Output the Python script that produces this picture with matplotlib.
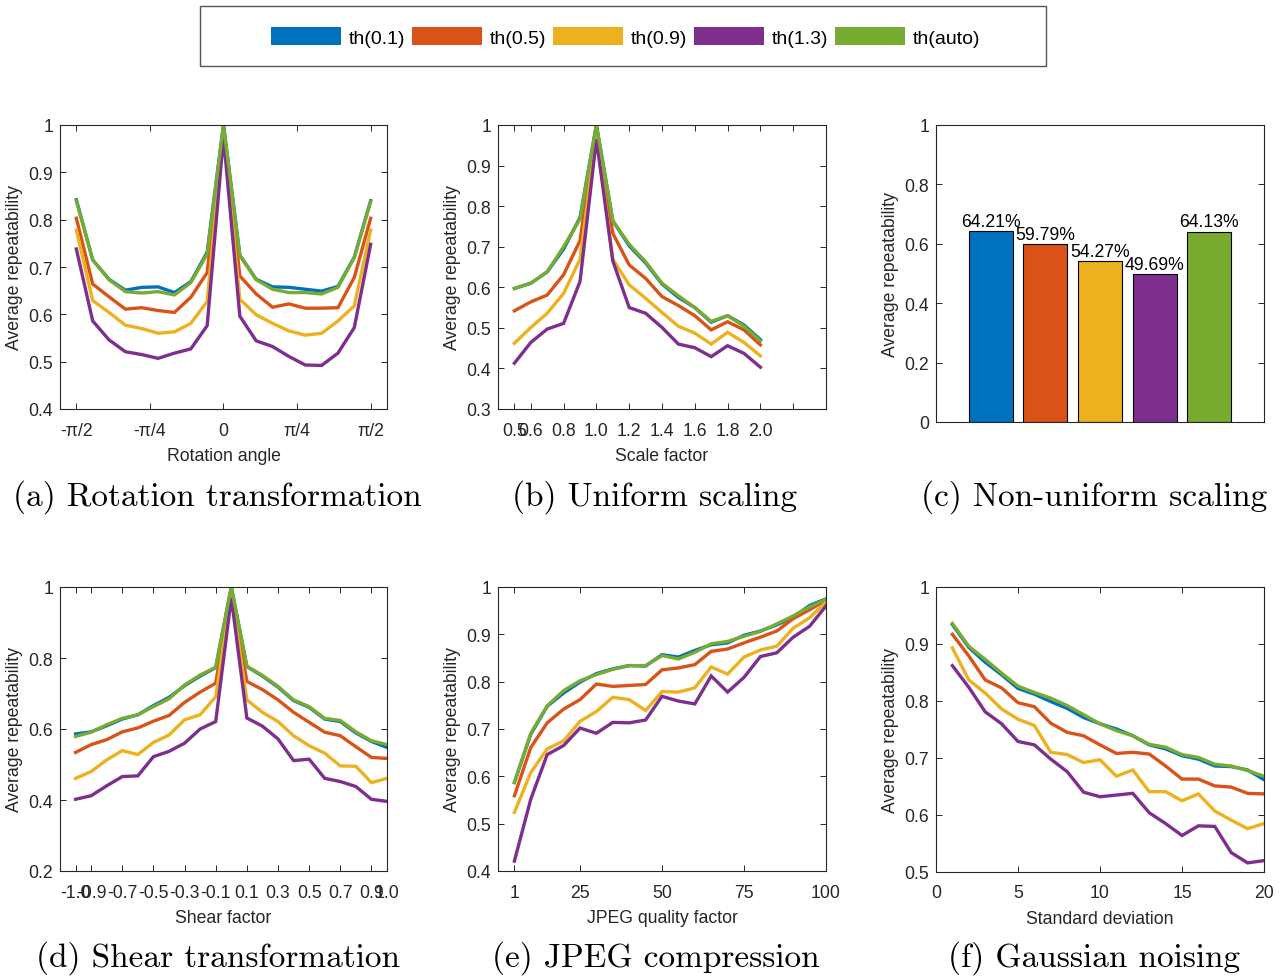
import matplotlib
matplotlib.use('Agg')
import matplotlib.pyplot as plt
from matplotlib.patches import Patch, Rectangle

plt.rcParams['font.family'] = ['Liberation Sans', 'DejaVu Sans']

W, H = 1279, 979
colors = ['#0072BD', '#D95319', '#EDB120', '#7E2F8E', '#77AC30']
series_names = ['th(0.1)', 'th(0.5)', 'th(0.9)', 'th(1.3)', 'th(auto)']

# ---------------- (a) Rotation transformation ----------------
rot_angle = [-90, -80, -70, -60, -50, -40, -30, -20, -10, 0, 10, 20, 30, 40, 50, 60, 70, 80, 90]
rot_t01 = [0.842, 0.715, 0.674, 0.651, 0.657, 0.658, 0.646, 0.669, 0.731, 1.0, 0.725, 0.674, 0.658, 0.657, 0.653, 0.649, 0.659, 0.721, 0.840]
rot_t05 = [0.803, 0.664, 0.637, 0.611, 0.614, 0.608, 0.604, 0.636, 0.688, 0.995, 0.681, 0.643, 0.615, 0.622, 0.613, 0.613, 0.614, 0.678, 0.803]
rot_t09 = [0.778, 0.629, 0.604, 0.577, 0.570, 0.560, 0.563, 0.581, 0.627, 0.99, 0.632, 0.599, 0.581, 0.565, 0.556, 0.560, 0.586, 0.618, 0.778]
rot_t13 = [0.738, 0.586, 0.546, 0.521, 0.515, 0.507, 0.518, 0.527, 0.576, 0.975, 0.596, 0.544, 0.532, 0.511, 0.493, 0.492, 0.518, 0.572, 0.748]
rot_auto = [0.840, 0.715, 0.673, 0.648, 0.645, 0.648, 0.641, 0.667, 0.727, 1.0, 0.724, 0.673, 0.653, 0.646, 0.646, 0.643, 0.657, 0.720, 0.838]
rot_ticks = [-90, -45, 0, 45, 90]
rot_ticklabels = ['-\u03c0/2', '-\u03c0/4', '0', '\u03c0/4', '\u03c0/2']

# ---------------- (b) Uniform scaling ----------------
scale = [0.5, 0.6, 0.7, 0.8, 0.9, 1.0, 1.1, 1.2, 1.3, 1.4, 1.5, 1.6, 1.7, 1.8, 1.9, 2.0]
sc_t01 = [0.597, 0.610, 0.638, 0.694, 0.772, 1.0, 0.764, 0.702, 0.660, 0.608, 0.575, 0.550, 0.514, 0.530, 0.507, 0.471]
sc_t05 = [0.542, 0.564, 0.581, 0.631, 0.715, 0.99, 0.733, 0.655, 0.622, 0.577, 0.555, 0.530, 0.495, 0.515, 0.495, 0.458]
sc_t09 = [0.462, 0.501, 0.536, 0.585, 0.669, 0.98, 0.669, 0.606, 0.573, 0.538, 0.504, 0.487, 0.460, 0.489, 0.464, 0.431]
sc_t13 = [0.413, 0.464, 0.497, 0.511, 0.614, 0.965, 0.665, 0.550, 0.536, 0.501, 0.460, 0.451, 0.429, 0.456, 0.437, 0.403]
sc_auto = [0.597, 0.610, 0.638, 0.700, 0.768, 1.0, 0.764, 0.706, 0.663, 0.610, 0.579, 0.550, 0.516, 0.530, 0.504, 0.468]
sc_ticks = [0.5, 0.6, 0.8, 1.0, 1.2, 1.4, 1.6, 1.8, 2.0, 2.2]
sc_ticklabels = ['0.5', '0.6', '0.8', '1.0', '1.2', '1.4', '1.6', '1.8', '2.0', '']

# ---------------- (c) Non-uniform scaling ----------------
nonuni_values = [0.6421, 0.5979, 0.5427, 0.4969, 0.6413]

# ---------------- (d) Shear transformation ----------------
shear = [-1.0, -0.9, -0.8, -0.7, -0.6, -0.5, -0.4, -0.3, -0.2, -0.1, 0.0, 0.1, 0.2, 0.3, 0.4, 0.5, 0.6, 0.7, 0.8, 0.9, 1.0]
sh_t01 = [0.586, 0.592, 0.609, 0.628, 0.640, 0.666, 0.689, 0.722, 0.749, 0.773, 1.0, 0.776, 0.749, 0.718, 0.680, 0.661, 0.628, 0.621, 0.589, 0.565, 0.548]
sh_t05 = [0.534, 0.556, 0.570, 0.592, 0.603, 0.622, 0.638, 0.675, 0.704, 0.729, 0.99, 0.734, 0.711, 0.682, 0.647, 0.619, 0.591, 0.581, 0.550, 0.520, 0.517]
sh_t09 = [0.461, 0.480, 0.513, 0.539, 0.528, 0.562, 0.583, 0.626, 0.640, 0.691, 0.985, 0.682, 0.647, 0.621, 0.581, 0.553, 0.532, 0.496, 0.495, 0.449, 0.461]
sh_t13 = [0.402, 0.412, 0.440, 0.466, 0.468, 0.522, 0.537, 0.560, 0.600, 0.621, 0.97, 0.631, 0.608, 0.572, 0.511, 0.515, 0.461, 0.452, 0.438, 0.402, 0.396]
sh_auto = [0.579, 0.591, 0.612, 0.630, 0.640, 0.663, 0.685, 0.724, 0.752, 0.774, 1.0, 0.777, 0.751, 0.720, 0.682, 0.663, 0.630, 0.624, 0.592, 0.567, 0.556]
sh_ticks = [-1.0, -0.9, -0.7, -0.5, -0.3, -0.1, 0.1, 0.3, 0.5, 0.7, 0.9, 1.0]
sh_ticklabels = ['-1.0', '-0.9', '-0.7', '-0.5', '-0.3', '-0.1', '0.1', '0.3', '0.5', '0.7', '0.9', '1.0']

# ---------------- (e) JPEG compression ----------------
jpeg_pos = [5, 10, 15, 20, 25, 30, 35, 40, 45, 50, 55, 60, 65, 70, 75, 80, 85, 90, 95, 100]
jp_t01 = [0.587, 0.689, 0.748, 0.776, 0.799, 0.817, 0.827, 0.834, 0.833, 0.857, 0.852, 0.866, 0.878, 0.882, 0.898, 0.907, 0.920, 0.936, 0.961, 0.975]
jp_t05 = [0.559, 0.661, 0.713, 0.742, 0.762, 0.795, 0.790, 0.792, 0.794, 0.825, 0.829, 0.836, 0.864, 0.869, 0.882, 0.894, 0.907, 0.933, 0.952, 0.972]
jp_t09 = [0.524, 0.608, 0.658, 0.675, 0.716, 0.737, 0.767, 0.762, 0.739, 0.779, 0.778, 0.787, 0.831, 0.816, 0.852, 0.867, 0.875, 0.913, 0.935, 0.968]
jp_t13 = [0.421, 0.552, 0.646, 0.665, 0.702, 0.691, 0.714, 0.713, 0.719, 0.769, 0.759, 0.753, 0.812, 0.778, 0.809, 0.853, 0.861, 0.894, 0.917, 0.960]
jp_auto = [0.587, 0.691, 0.749, 0.781, 0.802, 0.815, 0.826, 0.834, 0.834, 0.855, 0.848, 0.862, 0.880, 0.885, 0.896, 0.906, 0.922, 0.939, 0.958, 0.974]
jp_ticks = [5, 25, 50, 75, 100]
jp_ticklabels = ['1', '25', '50', '75', '100']

# ---------------- (f) Gaussian noising ----------------
noise_std = [1, 2, 3, 4, 5, 6, 7, 8, 9, 10, 11, 12, 13, 14, 15, 16, 17, 18, 19, 20]
gn_t01 = [0.934, 0.894, 0.868, 0.846, 0.822, 0.812, 0.799, 0.787, 0.771, 0.760, 0.751, 0.739, 0.723, 0.716, 0.704, 0.698, 0.686, 0.685, 0.679, 0.662]
gn_t05 = [0.917, 0.879, 0.837, 0.823, 0.797, 0.790, 0.761, 0.745, 0.739, 0.723, 0.708, 0.710, 0.707, 0.686, 0.663, 0.663, 0.651, 0.649, 0.638, 0.637]
gn_t09 = [0.893, 0.837, 0.814, 0.786, 0.768, 0.757, 0.710, 0.706, 0.692, 0.697, 0.668, 0.679, 0.641, 0.641, 0.625, 0.637, 0.607, 0.591, 0.576, 0.585]
gn_t13 = [0.862, 0.824, 0.781, 0.760, 0.729, 0.723, 0.698, 0.676, 0.640, 0.632, 0.635, 0.638, 0.604, 0.585, 0.564, 0.581, 0.580, 0.534, 0.516, 0.520]
gn_auto = [0.936, 0.896, 0.873, 0.849, 0.826, 0.815, 0.805, 0.792, 0.776, 0.760, 0.748, 0.739, 0.724, 0.719, 0.706, 0.701, 0.689, 0.686, 0.678, 0.668]
gn_ticks = [0, 5, 10, 15, 20]

captions = ['(a) Rotation transformation', '(b) Uniform scaling', '(c) Non-uniform scaling',
            '(d) Shear transformation', '(e) JPEG compression', '(f) Gaussian noising']

AXC = '#262626'
FS = 12.7
LW = 2.4

fig = plt.figure(figsize=(W / 100, H / 100), dpi=100)


def make_ax(l, r, t, b):
    ax = fig.add_axes([l / W, 1 - b / H, (r - l) / W, (b - t) / H])
    ax.tick_params(direction='in', top=True, right=True, length=4, width=0.7,
                   labelsize=FS, colors=AXC)
    ax.tick_params(axis='x', pad=9)
    ax.tick_params(axis='y', pad=5)
    for s in ax.spines.values():
        s.set_color(AXC)
        s.set_linewidth(0.8)
    ax.set_ylabel('Average repeatability', fontsize=FS, color=AXC, labelpad=4)
    return ax


def yfmt(vals):
    return ['1' if v == 1 else ('0' if v == 0 else f'{v:.1f}') for v in vals]


def plot_lines(ax, x, ys):
    for y, c in zip(ys, colors):
        ax.plot(x, y, color=c, lw=LW, solid_joinstyle='miter')


# (a)
ax = make_ax(60, 387, 126, 410)
plot_lines(ax, rot_angle, [rot_t01, rot_t05, rot_t09, rot_t13, rot_auto])
ax.set_xlim(-100, 100)
ax.set_ylim(0.4, 1.0)
ax.set_xticks(rot_ticks)
ax.set_xticklabels(rot_ticklabels)
yt = [0.4, 0.5, 0.6, 0.7, 0.8, 0.9, 1.0]
ax.set_yticks(yt)
ax.set_yticklabels(yfmt(yt))
ax.set_xlabel('Rotation angle', fontsize=FS, color=AXC, labelpad=6)

# (b)
ax = make_ax(498, 826, 126, 410)
plot_lines(ax, scale, [sc_t01, sc_t05, sc_t09, sc_t13, sc_auto])
ax.set_xlim(0.4, 2.4)
ax.set_ylim(0.3, 1.0)
ax.set_xticks(sc_ticks)
ax.set_xticklabels(sc_ticklabels)
yt = [0.3, 0.4, 0.5, 0.6, 0.7, 0.8, 0.9, 1.0]
ax.set_yticks(yt)
ax.set_yticklabels(yfmt(yt))
ax.set_xlabel('Scale factor', fontsize=FS, color=AXC, labelpad=6)

# (c)
ax = make_ax(936, 1264, 126, 423)
xs = list(range(1, len(nonuni_values) + 1))
ax.bar(xs, nonuni_values, width=0.8, color=colors, edgecolor='black', linewidth=0.8)
for xv, v in zip(xs, nonuni_values):
    ax.text(xv, v + 0.004, f'{v * 100:.2f}%', ha='center', va='bottom', fontsize=FS, color='black')
ax.set_xlim(0, 6)
ax.set_ylim(0, 1)
ax.set_xticks([])
yt = [0, 0.2, 0.4, 0.6, 0.8, 1.0]
ax.set_yticks(yt)
ax.set_yticklabels(yfmt(yt))

# (d)
ax = make_ax(60, 387, 588, 872)
plot_lines(ax, shear, [sh_t01, sh_t05, sh_t09, sh_t13, sh_auto])
ax.set_xlim(-1.1, 1.0)
ax.set_ylim(0.2, 1.0)
ax.set_xticks(sh_ticks)
ax.set_xticklabels(sh_ticklabels)
yt = [0.2, 0.4, 0.6, 0.8, 1.0]
ax.set_yticks(yt)
ax.set_yticklabels(yfmt(yt))
ax.set_xlabel('Shear factor', fontsize=FS, color=AXC, labelpad=6)

# (e)
ax = make_ax(498, 826, 588, 872)
plot_lines(ax, jpeg_pos, [jp_t01, jp_t05, jp_t09, jp_t13, jp_auto])
ax.set_xlim(0, 100)
ax.set_ylim(0.4, 1.0)
ax.set_xticks(jp_ticks)
ax.set_xticklabels(jp_ticklabels)
yt = [0.4, 0.5, 0.6, 0.7, 0.8, 0.9, 1.0]
ax.set_yticks(yt)
ax.set_yticklabels(yfmt(yt))
ax.set_xlabel('JPEG quality factor', fontsize=FS, color=AXC, labelpad=6)

# (f)
ax = make_ax(936, 1264, 588, 873)
plot_lines(ax, noise_std, [gn_t01, gn_t05, gn_t09, gn_t13, gn_auto])
ax.set_xlim(0, 20)
ax.set_ylim(0.5, 1.0)
ax.set_xticks(gn_ticks)
ax.set_xticklabels([str(t) for t in gn_ticks])
yt = [0.5, 0.6, 0.7, 0.8, 0.9, 1.0]
ax.set_yticks(yt)
ax.set_yticklabels(yfmt(yt))
ax.set_xlabel('Standard deviation', fontsize=FS, color=AXC, labelpad=6)

# captions
cap_pos = [(217, 497), (655, 497), (1094, 497), (218, 958), (656, 958), (1094, 958)]
for (cx, cy), txt in zip(cap_pos, captions):
    fig.text(cx / W, 1 - cy / H, txt, ha='center', va='center', fontsize=24, family='cmr10')

# legend
fig.patches.append(Rectangle((200 / W, 1 - 67 / H), 846 / W, 60 / H, transform=fig.transFigure,
                             facecolor='white', edgecolor='#555555', linewidth=1.0, zorder=0))
handles = [Patch(facecolor=c, edgecolor='none') for c in colors]
fig.legend(handles, series_names, loc='center', bbox_to_anchor=(626 / W, 1 - 38 / H),
           ncol=5, frameon=False, fontsize=14, handlelength=3.6, handleheight=1.05,
           handletextpad=0.4, columnspacing=0.35, borderpad=0.0)

fig.savefig('out.png', dpi=100)
